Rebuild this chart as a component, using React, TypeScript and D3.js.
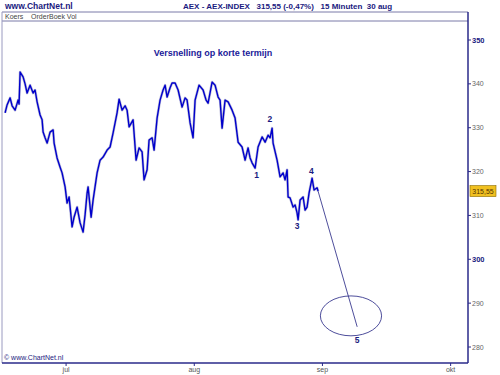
import React from "react";
import * as d3 from "d3";

// time in days since 1 jul, price (AEX index)
const times = [-14.75,-14.27,-13.54,-13.06,-12.33,-11.61,-11.37,-11.12,-10.4,-9.92,-9.43,-8.71,-7.98,-7.5,-7.01,-6.29,-5.8,-5.56,-5.08,-4.59,-3.87,-3.14,-2.9,-2.18,-1.45,-0.97,-0.24,0.24,0.73,1.45,1.93,2.66,3.39,4.11,4.59,5.08,5.32,6.05,6.53,7.5,8.22,8.95,9.92,10.64,11.37,12.33,12.82,13.54,14.27,14.75,15.24,16.2,16.93,17.65,18.38,18.86,19.59,20.07,20.8,21.28,22.01,22.73,23.46,23.94,24.43,25.15,25.63,26.36,27.09,28.05,28.78,29.26,29.99,30.71,31.2,32.16,33.13,33.86,34.34,35.31,36.03,36.76,37.24,37.73,38.45,39.18,40.15,40.87,41.6,42.56,43.29,44.01,44.5,44.98,45.71,46.43,47.4,48.13,48.85,49.33,49.82,50.06,51.03,51.75,52.48,52.96,53.45,53.69,54.17,54.9,55.38,55.86,56.11,56.59,57.32,57.8,58.28,58.76,59.49,59.97,60.7,60.94];
const prices = [333.4,335.2,336.8,335.0,334.0,336.3,335.4,342.7,341.6,340.0,337.9,339.7,337.9,338.6,335.9,332.9,331.8,329.0,327.7,326.5,329.0,329.5,326.5,323.1,321.0,319.7,316.5,312.8,314.2,307.4,309.6,311.9,308.3,306.2,310.1,315.1,316.5,309.6,313.5,319.7,322.6,323.3,324.9,325.6,328.8,333.4,336.5,334.0,335.0,334.0,330.2,331.8,322.6,325.4,324.5,318.1,320.4,327.2,327.7,324.9,332.2,336.3,338.6,339.7,337.0,339.1,340.2,340.2,338.6,334.7,336.8,336.3,331.1,327.7,336.3,339.7,338.6,336.3,335.6,340.4,339.7,337.0,336.3,329.9,336.3,335.9,334.0,332.2,326.7,325.6,322.6,325.4,323.1,322.0,320.8,325.6,327.9,326.7,328.3,327.7,329.9,326.5,322.6,318.8,319.7,318.1,320.4,314.2,314.0,311.9,312.4,310.6,309.0,313.5,314.2,311.2,311.9,315.1,318.5,315.8,316.3,315.55];

const yTicks = [350, 340, 330, 320, 310, 300, 290, 280];
const yMajor = [350, 300];
const xTickDays = [0, 31, 62, 93];
const xTickLabels = ["jul", "aug", "sep", "okt"];

const waveLabels = ["1", "2", "3", "4", "5"];
const waveT = [46.1, 49.3, 55.9, 59.3, 70.4];
const waveP = [318.6, 331.4, 306.8, 319.5, 281.0];

const targetT = 70.4;
const targetP = 284.6;
const ellipseT = 68.9;
const ellipseP = 287.1;
const ellipseRT = 7.4;
const ellipseRP = 4.55;

const lastPrice = "315,55";
const headerLeft = "www.ChartNet.nl";
const headerRight = "AEX - AEX-INDEX   315,55 (-0,47%)   15 Minuten  30 aug";
const tabs = "Koers    OrderBoek Vol";
const title = "Versnelling op korte termijn";
const copyright = "© www.ChartNet.nl";

export default function App() {
  const W = 500, H = 375;
  const left = 2, right = 468, top = 21, bottom = 363;
  const x = d3.scaleLinear().domain([-15.5, 97.2]).range([left, right]);
  const y = d3.scaleLinear().domain([350, 280]).range([40, 347]);
  const pts: [number, number][] = times.map((t, i) => [t, prices[i]]);
  const line = d3.line<[number, number]>().x(d => x(d[0])).y(d => y(d[1]));
  const last = pts[pts.length - 1];
  const navy = "#2a2a8a";
  const font = "'Liberation Sans', Arial, sans-serif";
  return (
    <svg width={W} height={H} style={{ position: "absolute", left: 0, top: 0, background: "#fff" }} fontFamily={font}>
      <text x={5} y={9} fontSize={8.5} fontWeight="bold" fill="#1a1a80">{headerLeft}</text>
      <text x={183} y={9} fontSize={8} fontWeight="bold" fill="#1a1a80" style={{ whiteSpace: "pre" }}>{headerRight}</text>
      <rect x={left} y={12} width={right - left} height={bottom - 12} fill="#fff" stroke="none" />
      <line x1={left} y1={12} x2={right} y2={12} stroke="#7a7aa8" strokeWidth={1} />
      <line x1={left} y1={top} x2={right} y2={top} stroke="#7a7aa8" strokeWidth={1} />
      <line x1={left} y1={12} x2={left} y2={bottom} stroke="#9a9ac0" strokeWidth={1} />
      <line x1={right} y1={12} x2={right} y2={bottom} stroke={navy} strokeWidth={1.5} />
      <line x1={left} y1={bottom} x2={right} y2={bottom} stroke={navy} strokeWidth={1.5} />
      <text x={5} y={19} fontSize={7} fill="#444" style={{ whiteSpace: "pre" }}>{tabs}</text>
      {yTicks.map(v => {
        const maj = yMajor.includes(v);
        return (
          <g key={v}>
            <line x1={right} x2={right + 3} y1={y(v)} y2={y(v)} stroke={navy} />
            <text x={right + 4} y={y(v) + 2.5} fontSize={maj ? 7.5 : 7} fontWeight={maj ? "bold" : "normal"} fill={maj ? "#1a1a80" : "#666"}>{v}</text>
          </g>
        );
      })}
      {xTickDays.map((d, i) => (
        <g key={d}>
          <line x1={x(d)} x2={x(d)} y1={bottom} y2={bottom + 3} stroke={navy} />
          <text x={x(d)} y={372} fontSize={7} textAnchor="middle" fill="#555">{xTickLabels[i]}</text>
        </g>
      ))}
      <rect x={right + 2} y={y(last[1]) - 5.5} width={26} height={11} fill="#f0c020" stroke="#8a6a00" strokeWidth={0.6} />
      <text x={right + 15} y={y(last[1]) + 2.5} fontSize={7} textAnchor="middle" fill="#553300">{lastPrice}</text>
      <text x={213} y={56} fontSize={9} fontWeight="bold" fill="#1a1a99" textAnchor="middle">{title}</text>
      <path d={line(pts) || ""} fill="none" stroke="#9090c0" strokeWidth={2.6} strokeLinejoin="round" opacity={0.6} />
      <path d={line(pts) || ""} fill="none" stroke="#0000cc" strokeWidth={1.4} strokeLinejoin="round" />
      <line x1={x(last[0])} y1={y(last[1])} x2={x(targetT)} y2={y(targetP)} stroke="#3a3a90" strokeWidth={0.9} />
      <ellipse cx={x(ellipseT)} cy={y(ellipseP)} rx={x(ellipseT + ellipseRT) - x(ellipseT)} ry={y(ellipseP - ellipseRP) - y(ellipseP)} fill="none" stroke="#3a3a90" strokeWidth={0.9} />
      {waveLabels.map((l, i) => (
        <text key={l} x={x(waveT[i])} y={y(waveP[i])} fontSize={8.5} fontWeight="bold" fill="#1a1a80" textAnchor="middle">{l}</text>
      ))}
      <text x={4} y={360} fontSize={7} fill="#1a1a80">{copyright}</text>
    </svg>
  );
}
